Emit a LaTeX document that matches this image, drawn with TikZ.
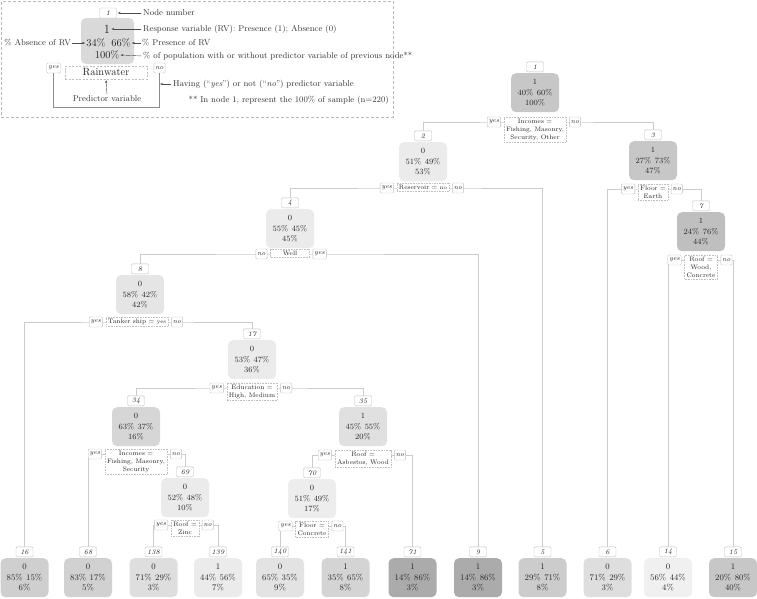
\documentclass[tikz,border=0pt]{standalone}
\usetikzlibrary{arrows.meta,backgrounds}
\newcommand\gp{\hspace{3.5pt}}
\tikzset{
  tbox/.style={rounded corners=5pt, minimum width=48pt, minimum height=39pt, align=center,
    font=\fontsize{8}{10.5}\selectfont, inner sep=0pt, text=black!85},
  leaf/.style={tbox, font=\fontsize{8.5}{10.5}\selectfont},
  numbox/.style={draw=black!25, fill=white, rounded corners=1.2pt, minimum width=17pt,
    minimum height=10pt, inner sep=1.5pt, font=\fontsize{7}{8}\selectfont\itshape, line width=0.4pt, text=black!85},
  cond/.style={draw=black!25, dash pattern=on 0.7pt off 0.9pt, fill=white, align=center,
    font=\fontsize{6.5}{8}\selectfont, inner sep=2pt, line width=0.4pt, text=black!85},
  yn/.style={draw=black!25, fill=white, rounded corners=1pt, minimum height=10pt, inner sep=1.5pt,
    font=\fontsize{6.5}{8}\selectfont\itshape, line width=0.4pt, text=black!85},
  edge/.style={draw=black!20, line width=0.5pt},
  lgtext/.style={inner sep=0pt, font=\fontsize{8.5}{10}\selectfont, text=black!80},
  lgarrow/.style={draw=black!70, line width=0.4pt, -{Stealth[length=3pt,width=2.2pt]}, shorten <=2pt, shorten >=1pt},
  lgline/.style={draw=black!45, line width=0.5pt},
}
% #1 style, #2 name, #3 x, #4 top y, #5 number, #6 fill, #7 class, #8 percents, #9 share
\newcommand\tnd[9]{%
  \node[#1, fill=#6, anchor=north] (#2) at (#3,#4) {#7\\#8\\#9};
  \node[numbox, anchor=south] (#2n) at (#3,#4-1) {#5};
}
% #1 name, #2 x, #3 split y, #4 condition, #5 left label, #6 right label
\newcommand\spl[6]{%
  \coordinate (#1s) at (#2,#3);
  \node[cond, anchor=north] (#1c) at (#2,#3-5.5) {#4};
  \node[yn, anchor=east, xshift=-3pt] (#1l) at (#1c.west |- #1s) {#5};
  \node[yn, anchor=west, xshift=3pt] (#1r) at (#1c.east |- #1s) {#6};
}
\begin{document}
\begin{tikzpicture}[x=1pt,y=-1pt]
\useasboundingbox (0,0) rectangle (757,598);

% ---------- legend ----------
\draw[black!28, dash pattern=on 3pt off 2pt, line width=0.4pt] (1.5,1.5) rectangle (393,117);
\node[numbox] (lgn) at (108,13) {1};
\node[lgtext, anchor=west] (lt1) at (143,13) {Node number};
\draw[lgarrow] (lt1.west) -- (lgn.east);
\node[rounded corners=5pt, fill=black!15, minimum width=53pt, minimum height=46pt, inner sep=0pt] (lgb) at (107.5,41) {};
\node[inner sep=0pt, font=\fontsize{12.5}{12}\selectfont, text=black!85] (lg1) at (107,29) {1};
\node[inner sep=0pt, font=\fontsize{10.5}{12}\selectfont, text=black!85] (lgp0) at (96,43) {34\%};
\node[inner sep=0pt, font=\fontsize{10.5}{12}\selectfont, text=black!85] (lgp1) at (121,43) {66\%};
\node[inner sep=0pt, font=\fontsize{10.5}{12}\selectfont, text=black!85] (lgpc) at (107,55) {100\%};
\node[lgtext, anchor=west] (lt2) at (143,29) {Response variable (RV): Presence (1); Absence (0)};
\draw[lgarrow] (lt2.west) -- (lg1.east);
\node[lgtext, anchor=east] (lt3) at (71,43) {\% Absence of RV};
\draw[lgarrow, shorten <=1pt] (lt3.east) -- (lgp0.west);
\node[lgtext, anchor=west] (lt4) at (142,43) {\% Presence of RV};
\draw[lgarrow, shorten <=1pt] (lt4.west) -- (lgp1.east);
\node[lgtext, anchor=west] (lt5) at (143,56) {\% of population with or without predictor variable of previous node**};
\draw[lgarrow] (lt5.west) -- (lgpc.east);
\node[yn] (lgy) at (53.5,68) {yes};
\node[cond, dash pattern=on 2pt off 1.5pt, minimum width=82pt, minimum height=13pt, font=\fontsize{10.5}{12}\selectfont] (lgr) at (106,72.5) {Rainwater};
\node[yn] (lgno) at (159.5,68) {no};
\coordinate (lgb1) at (53.5,107);
\coordinate (lgb2) at (159.5,107);
\draw[lgline] (lgy.south) -- (lgb1) -- (lgb2) -- (lgno.south);
\node[lgtext] (lt6) at (107,99) {Predictor variable};
\draw[lgarrow] (lt6.north) -- (lgr.south);
\node[lgtext, anchor=west] (lt7) at (173,84) {Having (``\textit{yes}'') or not (``\textit{no}'') predictor variable};
\coordinate (lgc) at (160,84);
\draw[lgarrow, shorten >=0pt] (lt7.west) -- (lgc);
\node[lgtext, anchor=east] (lt8) at (389,100) {** In node 1, represent the 100\% of sample (n=220)};

% ---------- internal nodes ----------
\tnd{tbox}{n1}{535}{73}{1}{black!22}{1}{40\%\gp60\%}{100\%}
\tnd{tbox}{n2}{423}{142}{2}{black!8}{0}{51\%\gp49\%}{53\%}
\tnd{tbox}{n3}{653}{141}{3}{black!22}{1}{27\%\gp73\%}{47\%}
\tnd{tbox}{n4}{290}{209}{4}{black!8}{0}{55\%\gp45\%}{45\%}
\tnd{tbox}{n7}{701}{212}{7}{black!25}{1}{24\%\gp76\%}{44\%}
\tnd{tbox}{n8}{140}{275}{8}{black!10}{0}{58\%\gp42\%}{42\%}
\tnd{tbox}{n17}{252}{340}{17}{black!8}{0}{53\%\gp47\%}{36\%}
\tnd{tbox}{n34}{136}{407}{34}{black!16}{0}{63\%\gp37\%}{16\%}
\tnd{tbox}{n35}{363}{407}{35}{black!12}{1}{45\%\gp55\%}{20\%}
\tnd{tbox}{n69}{185}{478}{69}{black!8}{0}{52\%\gp48\%}{10\%}
\tnd{tbox}{n70}{312}{479}{70}{black!7}{0}{51\%\gp49\%}{17\%}

% ---------- leaves ----------
\tnd{leaf}{l16}{24.5}{558}{16}{black!19}{0}{85\%\gp15\%}{6\%}
\tnd{leaf}{l68}{88}{558}{68}{black!18}{0}{83\%\gp17\%}{5\%}
\tnd{leaf}{l138}{153.5}{558}{138}{black!13}{0}{71\%\gp29\%}{3\%}
\tnd{leaf}{l139}{218}{558}{139}{black!8}{1}{44\%\gp56\%}{7\%}
\tnd{leaf}{l140}{280}{558}{140}{black!11}{0}{65\%\gp35\%}{9\%}
\tnd{leaf}{l141}{345.5}{558}{141}{black!17}{1}{35\%\gp65\%}{8\%}
\tnd{leaf}{l71}{412.5}{558}{71}{black!33}{1}{14\%\gp86\%}{3\%}
\tnd{leaf}{l9}{478}{558}{9}{black!33}{1}{14\%\gp86\%}{3\%}
\tnd{leaf}{l5}{542.5}{558}{5}{black!20}{1}{29\%\gp71\%}{8\%}
\tnd{leaf}{l6}{607.5}{558}{6}{black!13}{0}{71\%\gp29\%}{3\%}
\tnd{leaf}{l14}{668}{558}{14}{black!6}{0}{56\%\gp44\%}{4\%}
\tnd{leaf}{l15}{733}{558}{15}{black!22}{1}{20\%\gp80\%}{40\%}

% ---------- splits ----------
\spl{s1}{535}{122}{Incomes =\\Fishing, Masonry,\\Security, Other}{yes}{no}
\spl{s2}{423}{188}{Reservoir = {\fontsize{5.5}{6}\selectfont no}}{yes}{no}
\spl{s3}{653}{189}{Floor =\\Earth}{yes}{no}
\spl{s4}{290}{254}{\makebox[35pt]{Well}}{no}{yes}
\spl{s7}{701}{260}{Roof =\\Wood,\\Concrete}{yes}{no}
\spl{s8}{137}{322}{Tanker ship = {\fontsize{5.5}{6}\selectfont yes}}{yes}{no}
\spl{s17}{252}{388}{Education =\\High, Medium}{yes}{no}
\spl{s34}{136}{454}{Incomes =\\Fishing, Masonry,\\Security}{yes}{no}
\spl{s35}{363}{455}{Roof =\\Asbestos, Wood}{yes}{no}
\spl{s69}{185}{525}{Roof =\\Zinc}{yes}{no}
\spl{s70}{312}{526}{Floor =\\Concrete}{yes}{no}

% ---------- connectors ----------
\begin{scope}[on background layer]
\draw[edge] (n2n.north) |- (s1s) -| (n3n.north);
\draw[edge] (n4n.north) |- (s2s) -| (l5n.north);
\draw[edge] (l6n.north) |- (s3s) -| (n7n.north);
\draw[edge] (n8n.north) |- (s4s) -| (l9n.north);
\draw[edge] (l14n.north) |- (s7s) -| (l15n.north);
\draw[edge] (l16n.north) |- (s8s) -| (n17n.north);
\draw[edge] (n34n.north) |- (s17s) -| (n35n.north);
\draw[edge] (l68n.north) |- (s34s) -| (n69n.north);
\draw[edge] (n70n.north) |- (s35s) -| (l71n.north);
\draw[edge] (l138n.north) |- (s69s) -| (l139n.north);
\draw[edge] (l140n.north) |- (s70s) -| (l141n.north);
\end{scope}
\end{tikzpicture}
\end{document}
